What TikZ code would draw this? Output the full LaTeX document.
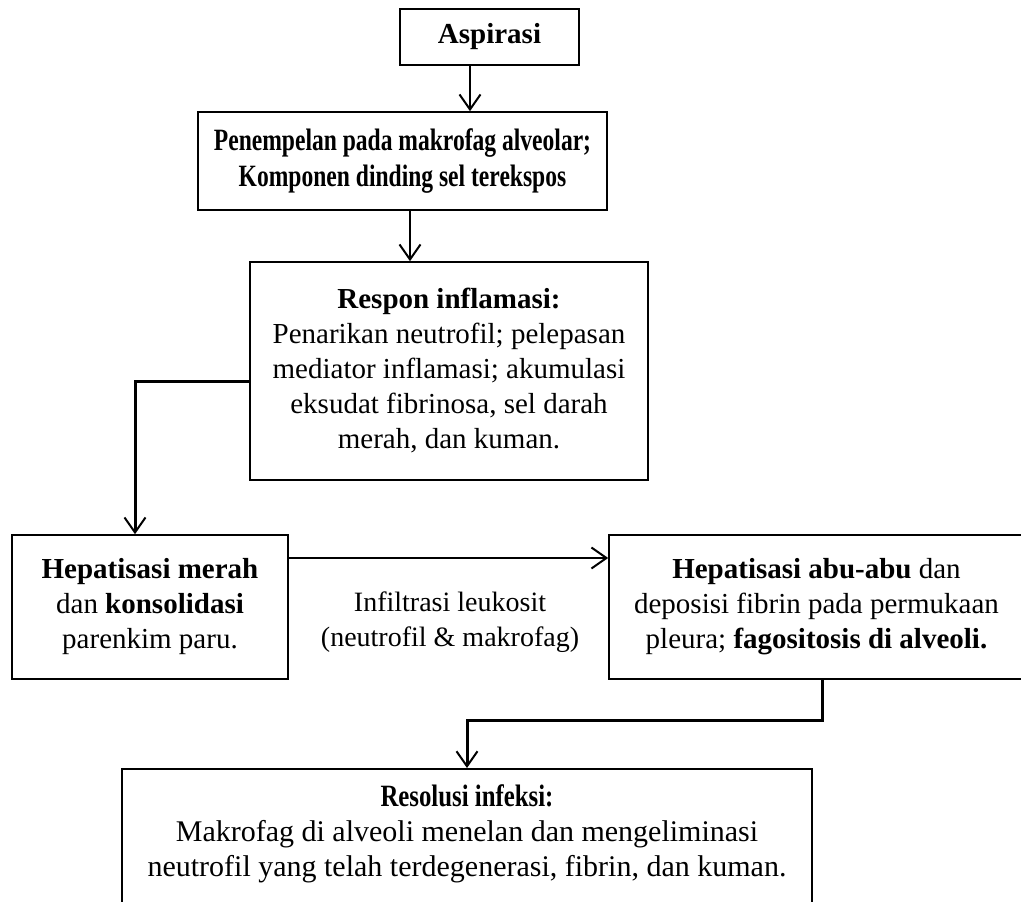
\documentclass[tikz,border=0pt]{standalone}
\usepackage{fontspec}
\setmainfont{Liberation Serif}
\newfontfamily\condfont[FakeStretch=0.76]{Liberation Serif}
\newfontfamily\condtitle[FakeStretch=0.8]{Liberation Serif}
\usetikzlibrary{arrows.meta,calc}
\tikzset{
  box/.style={draw=black,line width=1.6pt,inner sep=0pt,align=center,font=\fontsize{29}{35}\selectfont},
  txt/.style={inner sep=0pt,align=center,font=\fontsize{29}{35}\selectfont},
  arr/.style={line width=2pt,-{Straight Barb[length=15pt,width=21pt,line width=2pt]}},
  elb/.style={line width=3pt,-{Straight Barb[length=15pt,width=21pt,line width=2pt]}}
}
\begin{document}
\begin{tikzpicture}[x=1pt,y=-1pt]
\useasboundingbox (0,0) rectangle (1021,902);
\clip (0,0) rectangle (1021,902);
\fill[white] (0,0) rectangle (1021,902);
\node[box,minimum width=179pt,minimum height=56pt] (asp) at (489.5,37) {\textbf{Aspirasi}};
\node[box,minimum width=409pt,minimum height=98pt,font=\fontsize{31}{36}\condfont] (pen) at (402.5,161) {\textbf{Penempelan pada makrofag alveolar;}\\\textbf{Komponen dinding sel terekspos}};
\node[box,minimum width=398pt,minimum height=218pt] (resp) at (449,371) {\textbf{Respon inflamasi:}\\Penarikan neutrofil; pelepasan\\mediator inflamasi; akumulasi\\eksudat fibrinosa, sel darah\\merah, dan kuman.};
\node[box,minimum width=276pt,minimum height=144pt] (hm) at (150,607) {\textbf{Hepatisasi merah}\\dan \textbf{konsolidasi}\\parenkim paru.};
\node[box,minimum width=415pt,minimum height=144pt] (ha) at (816.5,607) {\textbf{Hepatisasi abu-abu} dan\\deposisi fibrin pada permukaan\\pleura; \textbf{fagositosis di alveoli.}};
\node[box,minimum width=690pt,minimum height=140pt,anchor=north] (res) at (467,768) {};
\node[txt,anchor=north,font=\fontsize{30}{35}\selectfont] (restext) at (467,784) {{\fontsize{31}{35}\condtitle\bfseries Resolusi infeksi:}\\Makrofag di alveoli menelan dan mengeliminasi\\neutrofil yang telah terdegenerasi, fibrin, dan kuman.};
\node[txt,font=\fontsize{28}{35}\selectfont] (lab) at (450,622) {Infiltrasi leukosit\\(neutrofil \& makrofag)};
\coordinate (x1) at (470,0);
\coordinate (x2) at (410,0);
\coordinate (x3) at (135,0);
\coordinate (y3) at (0,381);
\coordinate (y4) at (0,558);
\coordinate (x5) at (822,0);
\coordinate (y5) at (0,720);
\draw[arr] (asp.south -| x1) -- (pen.north -| x1);
\draw[arr] (pen.south -| x2) -- (resp.north -| x2);
\draw[elb] (resp.west |- y3) -- (x3 |- y3) -- (hm.north -| x3);
\draw[arr] (hm.east |- y4) -- (ha.west |- y4);
\draw[elb] (ha.south -| x5) -- (x5 |- y5) -- (res.north |- y5) -- (res.north);
\end{tikzpicture}
\end{document}
